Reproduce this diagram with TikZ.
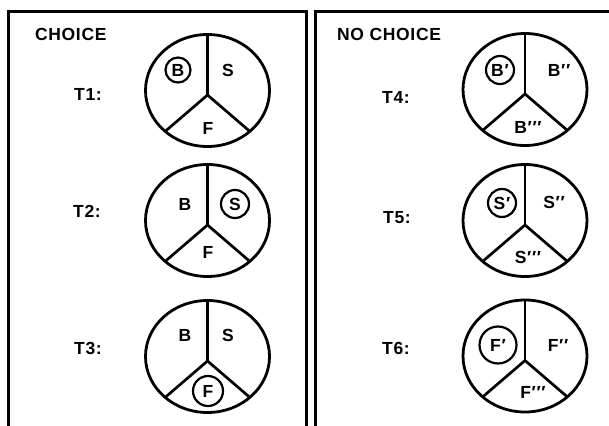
\documentclass[tikz,border=0pt]{standalone}
\usepackage{fontspec}
\setmainfont{Liberation Sans}
\usetikzlibrary{shapes.geometric}
\newcommand{\pp}{\kern0.04em′}
\begin{document}
\begin{tikzpicture}[x=1pt,y=-1pt,
  every node/.style={font=\bfseries\fontsize{17.5}{20}\selectfont, inner sep=0pt, outer sep=0pt},
  frameline/.style={line width=3pt},
  pie/.style={draw, ellipse, line width=2.8pt, minimum width=124pt, minimum height=112pt, outer sep=0pt},
  spoke/.style={line width=2.7pt},
  ring/.style={draw, circle, line width=2.2pt, inner sep=0pt},
  lbl/.style={font=\bfseries\addfontfeatures{LetterSpace=4}\fontsize{17.5}{20}\selectfont}]
\useasboundingbox (0,0) rectangle (609,425);
% frames
\coordinate (fl1) at (8,426);
\coordinate (fl2) at (8,12);
\coordinate (fl3) at (306,12);
\coordinate (fl4) at (306,426);
\coordinate (fr1) at (315.5,426);
\coordinate (fr2) at (315.5,12);
\coordinate (fr3) at (612,12);
\draw[frameline] (fl1) -- (fl2) -- (fl3) -- (fl4);
\draw[frameline] (fr1) -- (fr2) -- (fr3);
% titles
\node[lbl, anchor=west] (tc) at (35,34) {CHOICE};
\node[lbl, anchor=west] (tnc) at (337,34) {NO CHOICE};
% row labels
\node[lbl] (t1) at (88,94) {T1:};
\node[lbl] (t2) at (87,211) {T2:};
\node[lbl] (t3) at (88,348) {T3:};
\node[lbl] (t4) at (396,97) {T4:};
\node[lbl] (t5) at (397,218) {T5:};
\node[lbl] (t6) at (396,348) {T6:};
% pies
\foreach \n/\x/\y in {1/207.5/90.5, 2/207.5/220.5, 3/207.5/356.5, 4/525/89.5, 5/525/220.5, 6/525/356}{
  \node[pie] (c\n) at (\x,\y) {};
  \coordinate (j\n) at ([yshift=-4.5pt]c\n.center);
  \draw[spoke] (c\n.north) -- (j\n);
  \draw[spoke] (j\n) -- (c\n.-44);
  \draw[spoke] (j\n) -- (c\n.-136);
}
% T1
\node[ring, minimum size=25pt] (b1) at (178,70) {B};
\node (s1) at (228,70) {S};
\node (f1) at (208,128) {F};
% T2
\node (b2) at (185,204) {B};
\node[ring, minimum size=28pt] (s2) at (235,204) {S};
\node (f2) at (208,252) {F};
% T3
\node (b3) at (185,335) {B};
\node (s3) at (228,335) {S};
\node[ring, minimum size=30pt] (f3) at (208,391) {F};
% T4
\node[ring, minimum size=28pt] (b4) at (500,70) {B\pp};
\node (b4b) at (559,70) {B\pp\pp};
\node (b4c) at (528,127) {B\pp\pp\pp};
% T5
\node[ring, minimum size=28pt] (s5) at (502,203) {S\pp};
\node (s5b) at (554,202) {S\pp\pp};
\node (s5c) at (528,257) {S\pp\pp\pp};
% T6
\node[ring, minimum size=37pt] (f6) at (498,345) {F\pp};
\node (f6b) at (558,345) {F\pp\pp};
\node (f6c) at (533,392) {F\pp\pp\pp};
\end{tikzpicture}
\end{document}
